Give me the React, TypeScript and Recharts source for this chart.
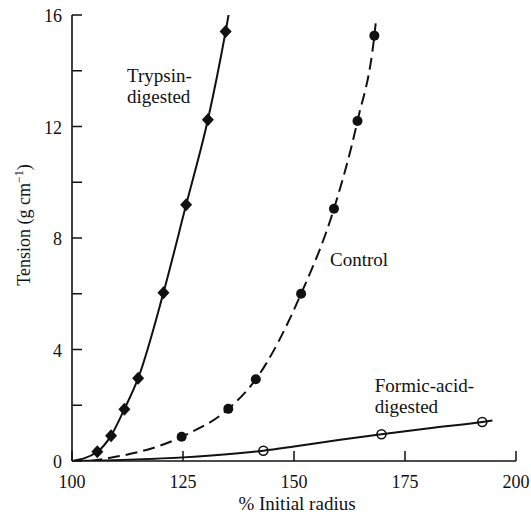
import { ComposedChart, Line, XAxis, YAxis, ReferenceDot } from "recharts";

const FONT = '"Liberation Serif"';
const INK = "#111";
const TXT = { fontFamily: FONT };

// x = % initial radius, y = tension (g cm-1)
const TRYPSIN_X = [105.7, 108.8, 111.8, 114.9, 120.6, 125.7, 130.6, 134.6];
const TRYPSIN_Y = [0.33, 0.91, 1.86, 2.97, 6.04, 9.19, 12.24, 15.41];
const TRYPSIN_LINE_X = [100, 105.7, 108.8, 111.8, 114.9, 120.6, 125.7, 130.6, 134.6, 135.6];
const TRYPSIN_LINE_Y = [0, 0.33, 0.91, 1.86, 2.97, 6.04, 9.19, 12.24, 15.41, 16.3];

const CONTROL_X = [124.7, 135.2, 141.4, 151.6, 159.0, 164.3, 168.1];
const CONTROL_Y = [0.87, 1.87, 2.93, 6.0, 9.05, 12.2, 15.26];
const CONTROL_LINE_X = [104.1, 124.7, 135.2, 141.4, 151.6, 159.0, 164.3, 168.1, 168.4];
const CONTROL_LINE_Y = [0, 0.87, 1.87, 2.93, 6.0, 9.05, 12.2, 15.26, 15.7];

const FORMIC_X = [143.1, 169.7, 192.4];
const FORMIC_Y = [0.37, 0.96, 1.4];
const FORMIC_LINE_X = [100, 125, 143.1, 150, 160, 169.7, 180, 192.4, 194.7];
const FORMIC_LINE_Y = [0, 0.13, 0.37, 0.52, 0.75, 0.96, 1.17, 1.4, 1.45];

const X_TICKS = [100, 125, 150, 175, 200];
const Y_TICKS = [0, 2, 4, 6, 8, 10, 12, 14, 16];
const Y_LABELED = [0, 4, 8, 12, 16];

const toPoints = (xs: number[], ys: number[], marks: number[]) =>
  xs.map((x, i) => ({ x, y: ys[i], mark: marks.includes(x) }));

const trypsinData = toPoints(TRYPSIN_LINE_X, TRYPSIN_LINE_Y, TRYPSIN_X);
const controlData = toPoints(CONTROL_LINE_X, CONTROL_LINE_Y, CONTROL_X);
const formicData = toPoints(FORMIC_LINE_X, FORMIC_LINE_Y, FORMIC_X);

function Diamond(props: any) {
  const { cx, cy, payload } = props;
  if (cx == null || cy == null || !payload?.mark) return null;
  const w = 6, h = 6.5;
  return (
    <path
      d={`M${cx},${cy - h}L${cx + w},${cy}L${cx},${cy + h}L${cx - w},${cy}Z`}
      fill={INK}
    />
  );
}

function FilledDot(props: any) {
  const { cx, cy, payload } = props;
  if (cx == null || cy == null || !payload?.mark) return null;
  return <circle cx={cx} cy={cy} r={5} fill={INK} />;
}

function OpenDot(props: any) {
  const { cx, cy, payload } = props;
  if (cx == null || cy == null || !payload?.mark) return null;
  return <circle cx={cx} cy={cy} r={4.5} fill="none" stroke={INK} strokeWidth={1.6} />;
}

function XTick(props: any) {
  const { x, y, payload } = props;
  return (
    <g>
      <line x1={x} y1={y} x2={x} y2={y - 10} stroke={INK} strokeWidth={1.5} />
      <text x={x} y={y + 27} textAnchor="middle" fontSize={18} style={TXT} fill={INK}>
        {payload.value}
      </text>
    </g>
  );
}

function YTick(props: any) {
  const { x, y, payload } = props;
  return (
    <g>
      <line x1={x} y1={y} x2={x + 10} y2={y} stroke={INK} strokeWidth={1.5} />
      {Y_LABELED.includes(payload.value) && (
        <text x={x - 10} y={y + 7} textAnchor="end" fontSize={18} style={TXT} fill={INK}>
          {payload.value}
        </text>
      )}
    </g>
  );
}

function Note({ viewBox, lines }: any) {
  if (!viewBox) return null;
  return (
    <text x={viewBox.x} y={viewBox.y} fontSize={19} style={TXT} fill={INK}>
      {lines.map((l: string, i: number) => (
        <tspan key={i} x={viewBox.x} dy={i === 0 ? 0 : 21}>
          {l}
        </tspan>
      ))}
    </text>
  );
}

export default function App() {
  return (
    <div style={{ position: "absolute", left: 0, top: 0, background: "#fff" }}>
      <ComposedChart
        width={531}
        height={515}
        margin={{ top: 15, right: 15, left: 0, bottom: 0 }}
      >
        <XAxis
          type="number"
          dataKey="x"
          domain={[100, 200]}
          ticks={X_TICKS}
          allowDataOverflow
          height={54}
          tickSize={0}
          tickMargin={0}
          tickLine={false}
          axisLine={{ stroke: INK, strokeWidth: 1.6 }}
          tick={<XTick />}
          label={({ viewBox }: any) => (
            <text
              x={viewBox.x + viewBox.width / 2 + 3}
              y={viewBox.y + 49}
              textAnchor="middle"
              fontSize={19}
              style={TXT}
              fill={INK}
            >
              % Initial radius
            </text>
          )}
        />
        <YAxis
          type="number"
          dataKey="y"
          domain={[0, 16]}
          ticks={Y_TICKS}
          allowDataOverflow
          width={72}
          tickSize={0}
          tickMargin={0}
          tickLine={false}
          axisLine={{ stroke: INK, strokeWidth: 1.6 }}
          tick={<YTick />}
          label={({ viewBox }: any) => {
            const cx = viewBox.x + 30;
            const cy = viewBox.y + 210;
            return (
              <text
                x={cx}
                y={cy}
                transform={`rotate(-90 ${cx} ${cy})`}
                textAnchor="middle"
                fontSize={18}
                style={TXT}
                fill={INK}
              >
                Tension (g cm
                <tspan dy={-7} fontSize={12}>−1</tspan>
                <tspan dy={7}>)</tspan>
              </text>
            );
          }}
        />

        <Line
          data={trypsinData}
          dataKey="y"
          type="monotone"
          stroke={INK}
          strokeWidth={2}
          dot={<Diamond />}
          activeDot={false}
          isAnimationActive={false}
        />
        <Line
          data={controlData}
          dataKey="y"
          type="monotone"
          stroke={INK}
          strokeWidth={2}
          strokeDasharray="12 6"
          dot={<FilledDot />}
          activeDot={false}
          isAnimationActive={false}
        />
        <Line
          data={formicData}
          dataKey="y"
          type="monotone"
          stroke={INK}
          strokeWidth={2}
          dot={<OpenDot />}
          activeDot={false}
          isAnimationActive={false}
        />

        <ReferenceDot
          x={112.4}
          y={13.6}
          r={0}
          stroke="none"
          fill="none"
          label={(p: any) => <Note viewBox={p.viewBox} lines={["Trypsin-", "digested"]} />}
        />
        <ReferenceDot
          x={158.1}
          y={6.98}
          r={0}
          stroke="none"
          fill="none"
          label={(p: any) => <Note viewBox={p.viewBox} lines={["Control"]} />}
        />
        <ReferenceDot
          x={168.2}
          y={2.49}
          r={0}
          stroke="none"
          fill="none"
          label={(p: any) => <Note viewBox={p.viewBox} lines={["Formic-acid-", "digested"]} />}
        />
      </ComposedChart>
    </div>
  );
}
